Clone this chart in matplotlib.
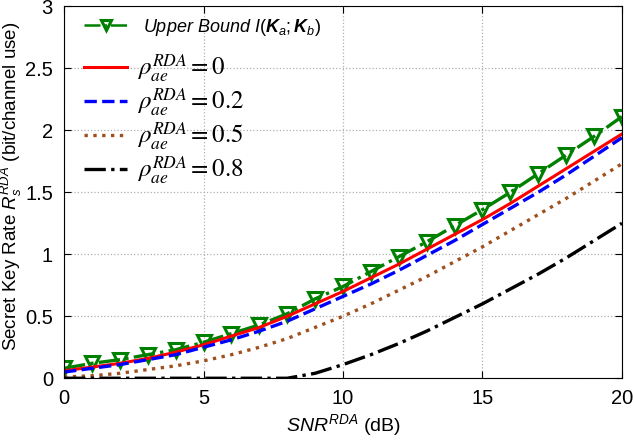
import matplotlib
matplotlib.use("Agg")
import matplotlib.pyplot as plt
import numpy as np

plt.rcParams['font.family'] = ['Liberation Sans', 'DejaVu Sans']
plt.rcParams['mathtext.fontset'] = 'custom'
plt.rcParams['mathtext.rm'] = 'Liberation Sans'
plt.rcParams['mathtext.it'] = 'Liberation Sans:italic'
plt.rcParams['mathtext.bf'] = 'Liberation Sans:bold:italic'

snr = np.arange(0, 21)
upper = [0.08, 0.12, 0.15, 0.19, 0.23, 0.29, 0.36, 0.43, 0.52, 0.64, 0.74,
         0.86, 0.98, 1.10, 1.23, 1.36, 1.50, 1.65, 1.80, 1.95, 2.11]
rho0 = [0.06, 0.09, 0.12, 0.16, 0.21, 0.27, 0.34, 0.41, 0.50, 0.60, 0.70,
        0.81, 0.92, 1.04, 1.16, 1.28, 1.41, 1.55, 1.69, 1.83, 1.97]
rho02 = [0.05, 0.08, 0.11, 0.15, 0.19, 0.25, 0.31, 0.38, 0.46, 0.56, 0.66,
         0.76, 0.87, 0.99, 1.11, 1.24, 1.37, 1.50, 1.64, 1.79, 1.94]
rho05 = [0.01, 0.02, 0.04, 0.07, 0.10, 0.14, 0.19, 0.25, 0.32, 0.41, 0.50,
         0.60, 0.71, 0.82, 0.94, 1.06, 1.19, 1.32, 1.45, 1.59, 1.73]
rho08 = [0, 0, 0, 0, 0, 0, 0, 0, 0, 0.04, 0.11,
         0.19, 0.28, 0.38, 0.49, 0.60, 0.72, 0.84, 0.97, 1.11, 1.25]

fig = plt.figure(figsize=(6.34, 4.45), dpi=100)
ax = fig.add_axes([0.101, 0.150, 0.880, 0.836])

h_ub, = ax.plot(snr, upper, color='green', ls='-.', lw=2.4, marker='v', ms=10,
                mfc='none', mec='green', mew=2.2)
h0, = ax.plot(snr, rho0, color='red', ls='-', lw=2.2)
h2, = ax.plot(snr, rho02, color='blue', ls='--', lw=2.4)
h5, = ax.plot(snr, rho05, color='#a0501e', ls=':', lw=2.4)
h8, = ax.plot(snr, rho08, color='black', ls='-.', lw=2.4)

ax.set_xlim(0, 20)
ax.set_ylim(0, 3)
ax.set_xticks([0, 5, 10, 15, 20])
ax.set_yticks([0, 0.5, 1, 1.5, 2, 2.5, 3])
ax.set_yticklabels(['0', '0.5', '1', '1.5', '2', '2.5', '3'])
ax.tick_params(direction='in', top=True, right=True, labelsize=14.5, length=5, pad=8)
ax.grid(True, ls=':', color='#b0b0b0', lw=0.9)

ax.set_xlabel(r'$SNR^{RDA}$ (dB)', fontsize=14, labelpad=3)
ax.set_ylabel(r'Secret Key Rate $R_s^{RDA}$ (bit/channel use)', fontsize=13.5)
ax.yaxis.set_label_coords(-0.072, 0.516)

leg1 = ax.legend([h_ub], [r'Upper Bound $I(\mathbf{K}_a;\mathbf{K}_b)$'],
                 loc='center left', bbox_to_anchor=(0.036, 0.944), frameon=False,
                 fontsize=13, handlelength=2.4, borderaxespad=0, borderpad=0,
                 handletextpad=0.85)
leg1.get_texts()[0].set_fontstyle('italic')
leg1.legend_handles[0].set_markersize(7)
leg1.legend_handles[0].set_linewidth(1.8)
ax.add_artist(leg1)

labels = [r'$\rho_{ae}^{RDA}=0$', r'$\rho_{ae}^{RDA}=0.2$',
          r'$\rho_{ae}^{RDA}=0.5$', r'$\rho_{ae}^{RDA}=0.8$']
leg2 = ax.legend([h0, h2, h5, h8], labels, loc='center left',
                 bbox_to_anchor=(0.036, 0.696), frameon=False, fontsize=18,
                 handlelength=1.72, borderaxespad=0, borderpad=0,
                 labelspacing=0.1, handletextpad=0.4)
for t in leg2.get_texts():
    t.set_math_fontfamily('stix')

fig.savefig('out.png', dpi=100)
